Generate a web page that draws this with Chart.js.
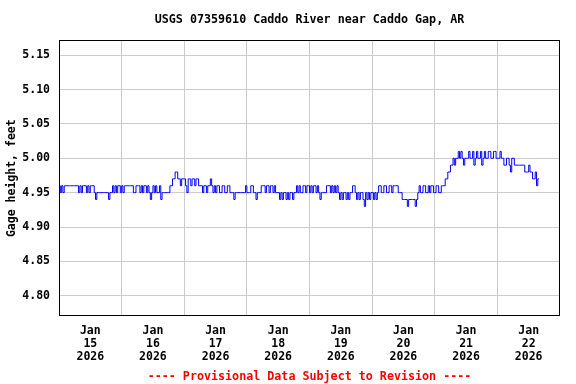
<!DOCTYPE html>
<html>
<head>
<meta charset="utf-8">
<script src="https://cdn.jsdelivr.net/npm/chart.js@4.4.1/dist/chart.umd.min.js"></script>
<style>
  body { margin: 0; background: #fff; }
</style>
</head>
<body>
<canvas id="gageChart" width="576" height="384"></canvas>
<script>
// half-hourly gage height readings (feet), one array per day starting at midnight
const jan15 = [4.96,4.95, 4.96,4.95, 4.96,4.96, 4.96,4.96, 4.96,4.96, 4.96,4.96, 4.96,4.96, 4.96,4.95,
               4.96,4.95, 4.96,4.96, 4.96,4.95, 4.96,4.95, 4.96,4.96, 4.96,4.95, 4.94,4.95, 4.95,4.95,
               4.95,4.95, 4.95,4.95, 4.95,4.95, 4.94,4.95, 4.95,4.96, 4.95,4.96, 4.95,4.96, 4.96,4.95];
const jan16 = [4.96,4.95, 4.96,4.96, 4.96,4.96, 4.96,4.96, 4.96,4.95, 4.95,4.96, 4.96,4.96, 4.95,4.96,
               4.95,4.96, 4.96,4.95, 4.96,4.95, 4.94,4.95, 4.96,4.95, 4.96,4.95, 4.95,4.96, 4.94,4.95,
               4.95,4.95, 4.95,4.95, 4.95,4.96, 4.96,4.97, 4.97,4.98, 4.98,4.97, 4.97,4.96, 4.97,4.97];
const jan17 = [4.97,4.96, 4.95,4.97, 4.97,4.96, 4.97,4.97, 4.96,4.97, 4.97,4.96, 4.96,4.96, 4.95,4.96,
               4.96,4.95, 4.96,4.96, 4.97,4.96, 4.95,4.96, 4.95,4.96, 4.96,4.95, 4.95,4.96, 4.96,4.95,
               4.95,4.96, 4.96,4.95, 4.95,4.95, 4.94,4.95, 4.95,4.95, 4.95,4.95, 4.95,4.95, 4.95,4.96];
const jan18 = [4.95,4.95, 4.95,4.96, 4.96,4.95, 4.95,4.94, 4.95,4.95, 4.95,4.96, 4.96,4.96, 4.95,4.96,
               4.96,4.95, 4.96,4.96, 4.95,4.96, 4.95,4.95, 4.95,4.94, 4.95,4.94, 4.95,4.95, 4.94,4.95,
               4.94,4.95, 4.95,4.94, 4.95,4.95, 4.96,4.95, 4.96,4.95, 4.95,4.96, 4.96,4.95, 4.96,4.96];
const jan19 = [4.95,4.96, 4.95,4.96, 4.96,4.95, 4.96,4.95, 4.94,4.95, 4.95,4.95, 4.95,4.96, 4.96,4.96,
               4.95,4.96, 4.95,4.96, 4.95,4.96, 4.95,4.94, 4.95,4.94, 4.95,4.95, 4.94,4.95, 4.94,4.95,
               4.95,4.96, 4.96,4.95, 4.94,4.95, 4.94,4.95, 4.95,4.94, 4.93,4.95, 4.94,4.95, 4.94,4.95];
const jan20 = [4.95,4.94, 4.95,4.94, 4.95,4.96, 4.96,4.95, 4.95,4.96, 4.96,4.95, 4.95,4.96, 4.96,4.95,
               4.96,4.96, 4.96,4.96, 4.95,4.95, 4.95,4.94, 4.94,4.94, 4.94,4.93, 4.94,4.94, 4.94,4.94,
               4.94,4.93, 4.94,4.95, 4.96,4.95, 4.95,4.96, 4.96,4.95, 4.95,4.96, 4.95,4.96, 4.96,4.95];
const jan21 = [4.95,4.96, 4.96,4.95, 4.95,4.96, 4.96,4.96, 4.97,4.97, 4.98,4.98, 4.99,4.99, 5.00,4.99,
               5.00,5.00, 5.01,5.00, 5.01,5.00, 4.99,5.00, 5.00,5.00, 5.01,5.00, 5.00,5.01, 4.99,5.00,
               5.01,5.00, 5.00,5.01, 4.99,5.00, 5.01,5.00, 5.00,5.01, 5.01,5.00, 5.00,5.01, 5.01,5.00];
const jan22 = [5.00,5.00, 5.01,5.00, 5.00,4.99, 4.99,5.00, 5.00,4.99, 4.98,5.00, 5.00,4.99, 4.99,4.99,
               4.99,4.99, 4.99,4.99, 4.99,4.98, 4.98,4.98, 4.99,4.98, 4.98,4.97, 4.97,4.98, 4.96,4.97,
               4.97];

const days = [jan15, jan16, jan17, jan18, jan19, jan20, jan21, jan22];
const dayLabels = ['15','16','17','18','19','20','21','22'];
const yTicks = [4.80, 4.85, 4.90, 4.95, 5.00, 5.05, 5.10, 5.15];

// x is hours since Jan 15 00:00, readings every 30 minutes
const points = [];
days.forEach(function(day, d) {
  day.forEach(function(v, i) {
    points.push({x: d * 24 + i / 2, y: v});
  });
});

const monoFont = '"DejaVu Sans Mono", "Liberation Mono", monospace';

const frame = {
  id: 'frame',
  afterDraw: function(chart) {
    const a = chart.chartArea;
    const c = chart.ctx;
    c.save();
    c.strokeStyle = '#000';
    c.lineWidth = 1;
    c.strokeRect(Math.round(a.left) + 0.5, Math.round(a.top) + 0.5,
                 Math.round(a.right - a.left) - 1, Math.round(a.bottom - a.top) - 1);
    c.restore();
  }
};

new Chart(document.getElementById('gageChart'), {
  type: 'line',
  data: {
    datasets: [{
      data: points,
      borderColor: '#0000ff',
      borderWidth: 1,
      pointRadius: 0,
      stepped: true,
      fill: false
    }]
  },
  options: {
    responsive: false,
    animation: false,
    layout: { padding: { left: 0, right: 16, top: 0, bottom: 0 } },
    plugins: {
      legend: { display: false },
      tooltip: { enabled: false },
      title: {
        display: true,
        fullSize: false,
        text: 'USGS 07359610 Caddo River near Caddo Gap, AR',
        color: '#000',
        font: { family: monoFont, size: 11.7, weight: 'bold', lineHeight: 1.2 },
        padding: { top: 13, bottom: 13 }
      },
      subtitle: {
        display: true,
        fullSize: false,
        position: 'bottom',
        text: '---- Provisional Data Subject to Revision ----',
        color: '#ff0000',
        font: { family: monoFont, size: 11.7, weight: 'bold', lineHeight: 1.2 },
        padding: { top: 0, bottom: 0 }
      }
    },
    scales: {
      x: {
        type: 'linear',
        min: 0,
        max: 192,
        afterBuildTicks: function(scale) {
          const t = [];
          for (let i = 1; i < 16; i++) t.push({value: i * 12});
          scale.ticks = t;
        },
        afterFit: function(scale) { scale.height = 53.6; },
        grid: {
          drawTicks: false,
          color: function(ctx) {
            return ctx.tick && ctx.tick.value % 24 === 0 ? '#cccccc' : 'rgba(0,0,0,0)';
          }
        },
        border: { display: false },
        ticks: {
          padding: 8,
          maxRotation: 0,
          autoSkip: false,
          color: '#000',
          font: { family: monoFont, size: 11.5, weight: 'bold', lineHeight: 1.13 },
          callback: function(value) {
            if (value % 24 !== 12) return '';
            return ['Jan', dayLabels[(value - 12) / 24], '2026'];
          }
        }
      },
      y: {
        min: 4.77,
        max: 5.172,
        afterBuildTicks: function(scale) {
          scale.ticks = yTicks.map(function(v) { return {value: v}; });
        },
        afterFit: function(scale) { scale.width = 59; },
        grid: { drawTicks: false, color: '#cccccc' },
        border: { display: false },
        ticks: {
          padding: 9,
          color: '#000',
          font: { family: monoFont, size: 11.5, weight: 'bold' },
          callback: function(value) { return value.toFixed(2); }
        },
        title: {
          display: true,
          text: 'Gage height, feet',
          color: '#000',
          font: { family: monoFont, size: 11.5, weight: 'bold', lineHeight: 1.2 },
          padding: { top: 5, bottom: 0 }
        }
      }
    }
  },
  plugins: [frame]
});
</script>
</body>
</html>
